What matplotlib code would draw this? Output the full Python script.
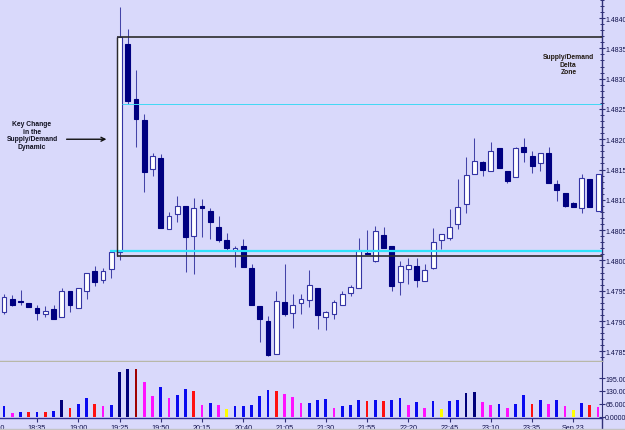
import matplotlib
matplotlib.use('Agg')
import matplotlib.pyplot as plt
from matplotlib.lines import Line2D
from matplotlib.ticker import MultipleLocator, FormatStrFormatter
import numpy as np

# ---------------- data (5-minute bars, 18:15 .. 00:15) ----------------
opens = [1.47915, 1.47936, 1.47933, 1.47930, 1.47922, 1.47912, 1.47920, 1.47907, 1.47950, 1.47922,
         1.47950, 1.47983, 1.47968, 1.47986, 1.48014, 1.48357, 1.48266, 1.48232, 1.48151, 1.48169,
         1.48052, 1.48077, 1.48090, 1.48040, 1.48090, 1.48082, 1.48055, 1.48034, 1.48017, 1.48024,
         1.47988, 1.47925, 1.47900, 1.47846, 1.47931, 1.47913, 1.47930, 1.47935, 1.47955, 1.47907,
         1.47912, 1.47926, 1.47946, 1.47955, 1.48013, 1.47999, 1.48042, 1.48024, 1.47964, 1.47986,
         1.47991, 1.47966, 1.47988, 1.48034, 1.48037, 1.48060, 1.48093, 1.48143, 1.48162, 1.48148,
         1.48186, 1.48148, 1.48138, 1.48188, 1.48172, 1.48161, 1.48177, 1.48126, 1.48111, 1.48095,
         1.48087, 1.48134, 1.48082]
highs = [1.47945, 1.47943, 1.47951, 1.47930, 1.47926, 1.47925, 1.47926, 1.47955, 1.47950, 1.47955,
         1.47979, 1.47991, 1.47988, 1.48014, 1.48418, 1.48382, 1.48314, 1.48242, 1.48177, 1.48176,
         1.48080, 1.48106, 1.48090, 1.48103, 1.48101, 1.48087, 1.48073, 1.48045, 1.48024, 1.48035,
         1.47994, 1.47925, 1.47908, 1.47950, 1.47994, 1.47945, 1.47945, 1.47984, 1.47955, 1.47917,
         1.47935, 1.47950, 1.47959, 1.48037, 1.48050, 1.48057, 1.48055, 1.48024, 1.47999, 1.48004,
         1.48004, 1.47994, 1.48054, 1.48044, 1.48085, 1.48134, 1.48171, 1.48202, 1.48164, 1.48195,
         1.48186, 1.48148, 1.48188, 1.48202, 1.48181, 1.48177, 1.48187, 1.48133, 1.48111, 1.48096,
         1.48143, 1.48134, 1.48143]
lows = [1.47912, 1.47925, 1.47926, 1.47923, 1.47902, 1.47907, 1.47903, 1.47907, 1.47915, 1.47922,
        1.47936, 1.47958, 1.47963, 1.47971, 1.48001, 1.48258, 1.48187, 1.48113, 1.48139, 1.48054,
        1.48052, 1.48063, 1.47981, 1.47978, 1.48039, 1.48035, 1.48030, 1.48016, 1.47989, 1.47989,
        1.47926, 1.47865, 1.47842, 1.47846, 1.47908, 1.47889, 1.47912, 1.47923, 1.47887, 1.47885,
        1.47903, 1.47926, 1.47941, 1.47955, 1.48011, 1.47997, 1.48021, 1.47950, 1.47943, 1.47961,
        1.47956, 1.47966, 1.47986, 1.48019, 1.48034, 1.48052, 1.48078, 1.48143, 1.48139, 1.48148,
        1.48153, 1.48128, 1.48138, 1.48162, 1.48144, 1.48148, 1.48128, 1.48098, 1.48088, 1.48088,
        1.48078, 1.48088, 1.48082]
closes = [1.47940, 1.47926, 1.47931, 1.47923, 1.47913, 1.47917, 1.47903, 1.47950, 1.47926, 1.47955,
          1.47979, 1.47964, 1.47983, 1.48014, 1.48369, 1.48263, 1.48233, 1.48146, 1.48172, 1.48054,
          1.48073, 1.48090, 1.48039, 1.48087, 1.48087, 1.48063, 1.48034, 1.48021, 1.48021, 1.47989,
          1.47926, 1.47903, 1.47844, 1.47933, 1.47912, 1.47926, 1.47936, 1.47959, 1.47910, 1.47915,
          1.47931, 1.47945, 1.47956, 1.48016, 1.48011, 1.48049, 1.48021, 1.47958, 1.47991, 1.47992,
          1.47968, 1.47984, 1.48030, 1.48044, 1.48055, 1.48088, 1.48141, 1.48164, 1.48149, 1.48181,
          1.48153, 1.48131, 1.48186, 1.48179, 1.48156, 1.48177, 1.48128, 1.48116, 1.48090, 1.48088,
          1.48136, 1.48088, 1.48143]
volumes = [53, 20, 26, 26, 26, 24, 31, 84, 46, 67,
           94, 67, 53, 60, 226, 243, 239, 173, 104, 150,
           94, 111, 140, 128, 60, 70, 58, 37, 53, 56,
           60, 104, 137, 128, 116, 99, 72, 72, 84, 91,
           45, 53, 60, 87, 82, 87, 82, 87, 96, 58,
           77, 43, 82, 39, 79, 84, 118, 123, 75, 58,
           67, 46, 62, 109, 67, 87, 67, 84, 55, 32,
           70, 60, 50]
vol_kind = ['b', 'm', 'b', 'r', 'b', 'r', 'b', 'n', 'r', 'b',
            'b', 'r', 'm', 'b', 'n', 'n', 'd', 'm', 'm', 'b',
            'm', 'b', 'b', 'r', 'm', 'b', 'm', 'y', 'b', 'b',
            'b', 'b', 'b', 'r', 'm', 'm', 'm', 'b', 'b', 'b',
            'm', 'b', 'b', 'b', 'r', 'b', 'r', 'b', 'b', 'm',
            'b', 'm', 'b', 'y', 'b', 'b', 'n', 'n', 'm', 'm',
            'b', 'm', 'b', 'b', 'r', 'b', 'm', 'b', 'm', 'y',
            'b', 'r', 'm']
time_labels = ['18:35', '19:00', '19:25', '19:50', '20:15', '20:40', '21:05',
               '21:30', '21:55', '22:20', '22:45', '23:10', '23:35', 'Sep.23']
first_label = '18:10'

zone_top = 1.48369
zone_bottom = 1.48007
cyan_level = 1.48015
cyan_thin_level = 1.48258
zone_start_bar = 14
cyan_start_bar = 13

# ---------------- styling ----------------
BG = '#d9d9fb'
W, H = 625, 431
KIND_COLORS = {'b': '#0a0af0', 'n': '#00007a', 'r': '#ff1010', 'd': '#a00000',
               'm': '#ff10ff', 'y': '#ffff00'}
plt.rcParams['font.family'] = ['Liberation Sans', 'DejaVu Sans']

fig = plt.figure(figsize=(W / 100, H / 100), dpi=100, facecolor=BG)
ax = fig.add_axes([0, (H - 362) / H, 602 / W, 362 / H], facecolor=BG)
axv = fig.add_axes([0, (H - 419) / H, 602 / W, 56 / H], facecolor=BG, sharex=ax)

n = len(opens)
x = np.arange(n)
o = np.array(opens); c = np.array(closes); hi = np.array(highs); lo = np.array(lows)
up = c >= o

# wicks
ax.vlines(x, lo, hi, color='#4444a8', linewidth=0.75, zorder=2)
# bodies
bottom = np.minimum(o, c)
height = np.maximum(np.abs(c - o), 0.000012)
fills = np.where(up, '#ffffff', '#000080')
edges = np.where(up, '#3434a4', '#000080')
ax.bar(x, height, bottom=bottom, width=0.6, color=fills, edgecolor=edges,
       linewidth=0.8, zorder=3)

xmin, xmax = -0.485, 72.48
ax.set_xlim(xmin, xmax)
ax.set_ylim(1.478341, 1.484314)

# zone lines
zl = zone_start_bar - 0.35
ax.hlines([zone_top, zone_bottom], zl, xmax, color='#2c2c2c', linewidth=1.2, zorder=5)
ax.vlines(zl, zone_bottom, zone_top, color='#2c2c2c', linewidth=1.0, zorder=5)
ax.hlines(cyan_level, cyan_start_bar - 0.15, xmax, color='#2ee4fa', linewidth=1.6, zorder=4)
ax.hlines(cyan_thin_level, zone_start_bar + 0.35, xmax, color='#40d8f4', linewidth=0.7, zorder=4)

# annotations
ax.annotate('', xy=(12.75, 1.48200), xytext=(7.25, 1.48200),
            arrowprops=dict(arrowstyle='->', color='#101010', lw=1.0, mutation_scale=7))
ax.text(3.4, 1.48207, 'Key Change\nin the\nSupply/Demand\nDynamic', ha='center', va='center',
        fontsize=4.9, fontweight='bold', color='#101020', linespacing=1.1)
ax.text(68.4, 1.48324, 'Supply/Demand\nDelta\nZone', ha='center', va='center',
        fontsize=4.9, fontweight='bold', color='#201810', linespacing=1.1)

# price axis on the right
ax.yaxis.tick_right()
ax.yaxis.set_major_locator(MultipleLocator(0.0005))
ax.yaxis.set_minor_locator(MultipleLocator(0.0001))
ax.yaxis.set_major_formatter(FormatStrFormatter('%.5f'))
ax.tick_params(axis='y', which='major', direction='inout', length=4, width=0.8,
               color='#303078', labelsize=5.0, pad=0.3, labelcolor='#10104a')
ax.tick_params(axis='y', which='minor', direction='inout', length=3, width=0.7, color='#303078')
ax.tick_params(axis='x', which='both', bottom=False, labelbottom=False)
for s in ['left', 'top']:
    ax.spines[s].set_visible(False)
ax.spines['right'].set_color('#303078')
ax.spines['right'].set_linewidth(1.0)
ax.spines['bottom'].set_color('#b8b8a8')
ax.spines['bottom'].set_linewidth(1.0)

# volume panel
vcols = [KIND_COLORS[k] for k in vol_kind]
axv.bar(x, volumes, width=0.34, color=vcols, linewidth=0, zorder=3)
axv.set_ylim(-6, 276)
axv.yaxis.tick_right()
axv.set_yticks([0, 65, 130, 195])
axv.yaxis.set_major_formatter(FormatStrFormatter('%.4f'))
axv.tick_params(axis='y', direction='inout', length=4, width=0.8, color='#303078',
                labelsize=5.0, pad=0.3, labelcolor='#10104a')
tick_pos = [4 + 5 * k for k in range(len(time_labels))]
axv.set_xticks(tick_pos)
axv.set_xticklabels(time_labels)
axv.tick_params(axis='x', direction='out', length=3, width=0.8, color='#303078',
                labelsize=5.2, pad=1.5, labelcolor='#10104a')
for s in ['left', 'top']:
    axv.spines[s].set_visible(False)
axv.spines['right'].set_color('#303078')
axv.spines['bottom'].set_color('#303090')
axv.spines['bottom'].set_linewidth(1.0)
axv.text(-1, -0.1, first_label, transform=axv.get_xaxis_transform(), ha='center', va='top',
         fontsize=5.2, color='#10104a', clip_on=False)

# right axis continuation and bottom strip
fig.add_artist(Line2D([602 / W, 602 / W], [0, (H - 419) / H], color='#303078', lw=1.0))
fig.add_artist(Line2D([0, 1], [0.003, 0.003], color='#c4c4c4', lw=1.0))

fig.savefig('out.png', dpi=100, facecolor=BG)
